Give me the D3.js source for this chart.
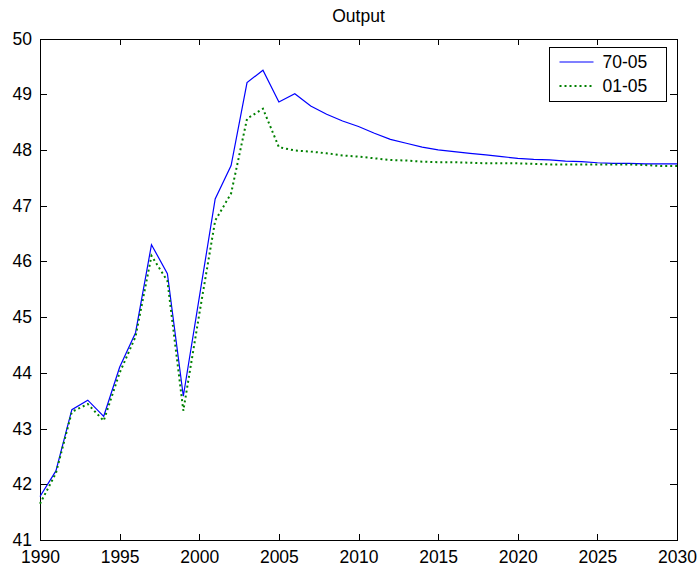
<!DOCTYPE html>
<html>
<head>
<meta charset="utf-8">
<script src="https://cdn.jsdelivr.net/npm/d3@7"></script>
<style>
    body { margin: 0; background: #fff; }
    .axis text { font-family: "Liberation Sans", Arial, sans-serif; font-size: 17.5px; fill: #000; }
    .axis path, .axis line { stroke: #000; shape-rendering: crispEdges; }
    .title, .legendText { font-family: "Liberation Sans", Arial, sans-serif; font-size: 17.5px; fill: #000; }
</style>
</head>
<body>
<div class="canvas"></div>
<script>
// years on the x axis
var years = d3.range(1990, 2031);

// series "70-05"
var series7005 = [41.78, 42.24, 43.34, 43.51, 43.22, 44.10, 44.72, 46.30, 45.78, 43.58,
    45.35, 47.12, 47.72, 49.21, 49.43, 48.86, 49.01, 48.79, 48.64, 48.52,
    48.42, 48.30, 48.19, 48.12, 48.05, 48.00, 47.97, 47.94, 47.91, 47.88,
    47.85, 47.83, 47.82, 47.80, 47.79, 47.77, 47.76, 47.76, 47.75, 47.75, 47.75];

// series "01-05"
var series0105 = [41.65, 42.20, 43.30, 43.44, 43.14, 44.00, 44.65, 46.10, 45.65, 43.32,
    45.05, 46.73, 47.22, 48.56, 48.74, 48.05, 47.99, 47.97, 47.94, 47.90,
    47.88, 47.85, 47.82, 47.81, 47.79, 47.78, 47.78, 47.77, 47.76, 47.76,
    47.76, 47.75, 47.74, 47.74, 47.74, 47.74, 47.74, 47.74, 47.73, 47.71, 47.71];

var xTicks = [1990, 1995, 2000, 2005, 2010, 2015, 2020, 2025, 2030];
var yTicks = [41, 42, 43, 44, 45, 46, 47, 48, 49, 50];
var seriesNames = ["70-05", "01-05"];

function loadGraph() {
    var width = 697, height = 568;
    var left = 40, right = 677, top = 38.5, bottom = 540;

    var svg = d3.select("body").select(".canvas").append("svg")
        .attr("width", width)
        .attr("height", height);

    var x = d3.scaleLinear().domain([1990, 2030]).range([left, right]);
    var y = d3.scaleLinear().domain([41, 50]).range([bottom, top]);

    // title
    svg.append("text")
        .attr("class", "title")
        .attr("x", (left + right) / 2)
        .attr("y", 22)
        .attr("text-anchor", "middle")
        .text("Output");

    // axes, ticks pointing inward like matlab
    svg.append("g")
        .attr("class", "axis")
        .attr("transform", "translate(0," + bottom + ")")
        .call(d3.axisBottom(x).tickValues(xTicks).tickFormat(d3.format("d"))
            .tickSizeInner(-6).tickSizeOuter(0).tickPadding(10.5));

    svg.append("g")
        .attr("class", "axis")
        .attr("transform", "translate(0," + top + ")")
        .call(d3.axisTop(x).tickValues(xTicks).tickFormat("")
            .tickSizeInner(-6).tickSizeOuter(0));

    svg.append("g")
        .attr("class", "axis")
        .attr("transform", "translate(" + left + ",0)")
        .call(d3.axisLeft(y).tickValues(yTicks).tickFormat(d3.format("d"))
            .tickSizeInner(-7).tickSizeOuter(0).tickPadding(8));

    svg.append("g")
        .attr("class", "axis")
        .attr("transform", "translate(" + right + ",0)")
        .call(d3.axisRight(y).tickValues(yTicks).tickFormat("")
            .tickSizeInner(-7).tickSizeOuter(0));

    var valueline = d3.line()
        .x(function (d) { return x(d.year); })
        .y(function (d) { return y(d.value); });

    var data1 = years.map(function (yr, i) { return { year: yr, value: series7005[i] }; });
    var data2 = years.map(function (yr, i) { return { year: yr, value: series0105[i] }; });

    svg.append("path")
        .datum(data1)
        .attr("fill", "none")
        .attr("stroke", "#0000ff")
        .attr("stroke-width", 1.2)
        .attr("d", valueline);

    svg.append("path")
        .datum(data2)
        .attr("fill", "none")
        .attr("stroke", "#008000")
        .attr("stroke-width", 2)
        .attr("stroke-dasharray", "2,3")
        .attr("d", valueline);

    // legend
    var legend = svg.append("g").attr("transform", "translate(549.5,47.5)");
    legend.append("rect")
        .attr("width", 117).attr("height", 54)
        .attr("fill", "#fff").attr("stroke", "#000");

    var styles = [
        { color: "#0000ff", w: 1.2, dash: null },
        { color: "#008000", w: 2, dash: "2,3" }
    ];
    seriesNames.forEach(function (name, i) {
        var ly = 14.5 + i * 24;
        legend.append("line")
            .attr("x1", 10).attr("x2", 44)
            .attr("y1", ly).attr("y2", ly)
            .attr("stroke", styles[i].color)
            .attr("stroke-width", styles[i].w)
            .attr("stroke-dasharray", styles[i].dash);
        legend.append("text")
            .attr("class", "legendText")
            .attr("x", 53)
            .attr("y", ly + 6)
            .text(name);
    });
}

loadGraph();
</script>
</body>
</html>
